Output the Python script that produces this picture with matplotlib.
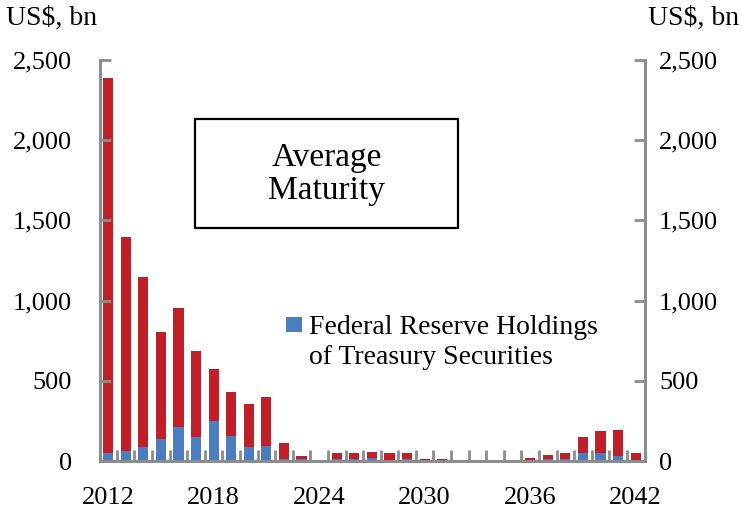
import matplotlib.pyplot as plt
import matplotlib.patches as mpatches
import numpy as np

plt.rcParams['font.family'] = ['Liberation Serif', 'DejaVu Serif']

years = list(range(2012, 2043))
total = [2386, 1398, 1148, 806, 957, 687, 571, 432, 355, 397, 110, 31,
         8, 47, 53, 59, 53, 53, 14, 14, 0, 0, 0, 0, 21, 36, 47, 147, 187, 193, 53]
fed = [48, 64, 89, 137, 214, 150, 249, 156, 85, 95, 10, 12,
       2, 15, 15, 18, 5, 12, 3, 3, 0, 0, 0, 0, 2, 15, 15, 47, 47, 34, 3]
tick_years = [2012, 2018, 2024, 2030, 2036, 2042]
yticks = [0, 500, 1000, 1500, 2000, 2500]

red = '#C01F27'
blue = '#4A7EBF'
grey = '#8C8C8C'

fig = plt.figure(figsize=(7.42, 5.12), dpi=100)
ax = fig.add_axes([0.1348, 0.0996, 0.7345, 0.7832])

x = np.arange(len(years))
others = np.array(total) - np.array(fed)
ax.bar(x, fed, width=0.58, color=blue, edgecolor='none')
ax.bar(x, others, bottom=fed, width=0.58, color=red, edgecolor='none')

ax.set_xlim(-0.46, 30.53)
ax.set_ylim(0, 2500)

ax.set_xticks([years.index(y) for y in tick_years])
ax.set_xticklabels([str(y) for y in tick_years])
ax.set_xticks(x[:-1] + 0.5, minor=True)
ax.tick_params(axis='x', which='major', length=0, pad=19, labelsize=19)
ax.tick_params(axis='x', which='minor', direction='in', length=8, width=2, color=grey)

ax.set_yticks(yticks)
ax.set_yticklabels([f'{v:,}' for v in yticks])
ax.tick_params(axis='y', direction='in', length=8, width=2, color=grey, labelsize=19, pad=20)

ax2 = ax.twinx()
ax2.set_ylim(0, 2500)
ax2.set_yticks(yticks)
ax2.set_yticklabels([f'{v:,}' for v in yticks])
ax2.tick_params(axis='y', direction='in', length=8, width=2, color=grey, labelsize=19, pad=10)

for a in (ax, ax2):
    a.spines['top'].set_visible(False)
    for s in ('left', 'right', 'bottom'):
        a.spines[s].set_color(grey)
        a.spines[s].set_linewidth(2)

fig.text(0.008, 0.965, 'US$, bn', fontsize=20, ha='left', va='center')
fig.text(0.873, 0.965, 'US$, bn', fontsize=20, ha='left', va='center')

# text box
ax.add_patch(mpatches.Rectangle((0.1743, 0.581), 0.4826, 0.272, transform=ax.transAxes,
                                fill=False, edgecolor='black', linewidth=1.6, zorder=5))
ax.text(0.4156, 0.716, 'Average\nMaturity', transform=ax.transAxes, ha='center',
        va='center', fontsize=24, linespacing=1.1, zorder=6)

# legend (only the Fed series is labelled), square sits next to the first line
ax.add_patch(mpatches.Rectangle((0.341, 0.3217), 0.0294, 0.0374, transform=ax.transAxes,
                                facecolor=blue, edgecolor='none', zorder=5))
ax.text(0.3835, 0.295, 'Federal Reserve Holdings\nof Treasury Securities', transform=ax.transAxes,
        ha='left', va='center', fontsize=20, linespacing=1.25, zorder=6)

fig.savefig('out.png', dpi=100)
